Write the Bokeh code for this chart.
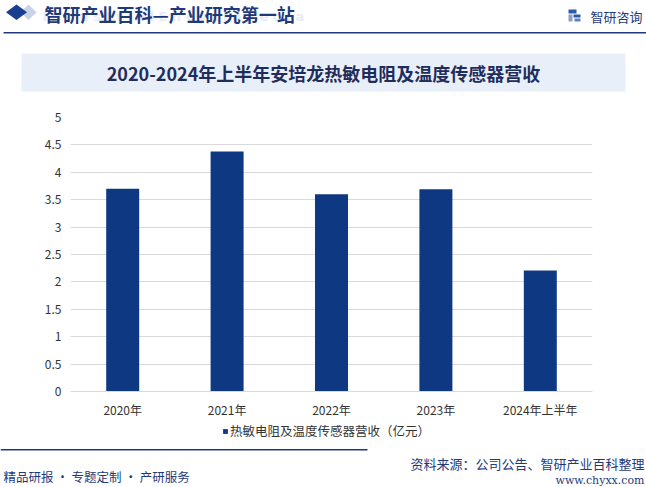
from bokeh.plotting import figure
from bokeh.layouts import column
from bokeh.models import (FactorRange, Range1d, FixedTicker, NumeralTickFormatter, Label)
from bokeh.embed import file_html
from bokeh.resources import INLINE

# ---- data ----
categories = ["2020年", "2021年", "2022年", "2023年", "2024年上半年"]
revenue = [3.70, 4.38, 3.60, 3.69, 2.21]
y_ticks = [0, 0.5, 1, 1.5, 2, 2.5, 3, 3.5, 4, 4.5, 5]
series_name = "热敏电阻及温度传感器营收（亿元）"
chart_title = "2020-2024年上半年安培龙热敏电阻及温度传感器营收"
header_text = "智研产业百科—产业研究第一站"
watermark_text = "I n d u s t r i a l   E n c y c l o p e d i a"
brand_text = "智研咨询"
source_text = "资料来源：公司公告、智研产业百科整理"
footer_text = "精品研报 · 专题定制 · 产研服务"
site_text = "www.chyxx.com"

CJK = "Noto Sans CJK SC"
NAVY = "#1f3a7a"
BAR = "#0e3882"
W = 646


def deco_fig(top, bottom):
    f = figure(width=W, height=bottom - top, x_range=Range1d(0, W), y_range=Range1d(bottom, top),
               output_backend="svg", toolbar_location=None, frame_align=False,
               x_axis_location=None, y_axis_location=None, min_border=0)
    f.outline_line_color = None
    f.grid.visible = False
    return f


def put_text(f, x, y, text, size, color, align="left", bold=False, font=CJK):
    f.add_layout(Label(x=x, y=y, text=text, text_font=font, text_font_size=size,
                       text_color=color, text_align=align, text_baseline="middle",
                       text_font_style="bold" if bold else "normal"))


# ---- header (picture rows 0..95) ----
hdr = deco_fig(0, 95)
hdr.patch(x=[20, 28, 36, 28], y=[11.7, 4, 11.7, 19.4], fill_color="#c9d3e8", line_color=None)
hdr.patch(x=[5.5, 16, 26.5, 16], y=[11.7, 4, 11.7, 19.4], fill_color="#1a3f8f", line_color=None)
put_text(hdr, 42, 16, watermark_text, "13px", "#e8ecf4", bold=True, font="DejaVu Sans")
put_text(hdr, 44, 13, header_text, "18px", NAVY, bold=True)
hdr.quad(left=3, right=W, top=31.5, bottom=33, fill_color=NAVY, line_color=None)
hdr.quad(left=568, right=576, top=9, bottom=13, fill_color="#2a5aa8", line_color=None)
hdr.quad(left=568, right=572, top=14, bottom=21, fill_color="#8fa0bf", line_color=None)
hdr.quad(left=573, right=580, top=14, bottom=17, fill_color="#2a5aa8", line_color=None)
hdr.quad(left=574, right=580, top=18, bottom=21, fill_color="#5c7fbf", line_color=None)
put_text(hdr, 590, 15.5, brand_text, "13px", NAVY)
hdr.quad(left=21, right=625, top=53, bottom=91, fill_color="#e9eff9", line_color=None)
put_text(hdr, 323, 72, chart_title, "18px", "#1f2d5c", align="center", bold=True)

# ---- main chart (picture rows 95..447) ----
# frame spans x 70..592 and y 117..445; value axis 0..5 occupies y 391..117,
# the strip below 0 holds the category labels and the legend.
plot_px = 274.0
below_px = 54.0
y_lo = -5 * below_px / plot_px

p = figure(width=W, height=352, x_range=FactorRange(*categories), y_range=Range1d(y_lo, 5),
           output_backend="svg", toolbar_location=None, frame_align=False,
           min_border_left=70, min_border_right=54, min_border_top=22, min_border_bottom=2)
p.outline_line_color = None
p.vbar(x=categories, bottom=0, top=revenue, width=0.316, fill_color=BAR, line_color=None,
       legend_label=series_name)
p.x_range.range_padding = 0
p.yaxis.ticker = FixedTicker(ticks=y_ticks)
p.yaxis.formatter = NumeralTickFormatter(format="0.[0]")
p.ygrid.ticker = FixedTicker(ticks=y_ticks)
p.ygrid.grid_line_color = "#d9d9d9"
p.xgrid.grid_line_color = None
for ax in (p.xaxis, p.yaxis):
    ax.major_tick_line_color = None
    ax.minor_tick_line_color = None
    ax.major_tick_out = 0
    ax.major_tick_in = 0
    ax.major_label_text_font = CJK
    ax.major_label_text_font_size = "12px"
    ax.major_label_text_color = "#333333"
p.yaxis.axis_line_color = None
p.yaxis.major_label_standoff = 9
p.xaxis.fixed_location = 0
p.xaxis.axis_line_color = "#d9d9d9"
p.xaxis.major_label_standoff = 9

lg = p.legend[0]
lg.location = (152, 5)
lg.orientation = "horizontal"
lg.border_line_color = None
lg.background_fill_alpha = 0
lg.padding = 0
lg.margin = 0
lg.glyph_width = 6
lg.glyph_height = 6
lg.label_height = 14
lg.label_standoff = 2
lg.label_text_font = CJK
lg.label_text_font_size = "12.5px"
lg.label_text_color = "#333333"

# ---- footer (picture rows 447..487) ----
ftr = deco_fig(447, 487)
ftr.quad(left=0, right=367, top=448.5, bottom=450, fill_color=NAVY, line_color=None)
put_text(ftr, 3, 476, footer_text, "12.5px", NAVY)
put_text(ftr, 644, 463, source_text, "13px", NAVY, align="right")
put_text(ftr, 644, 480, site_text, "11px", NAVY, align="right", font="DejaVu Serif")

layout = column(hdr, p, ftr, spacing=0)
open("out.html", "w").write(file_html(layout, INLINE))
